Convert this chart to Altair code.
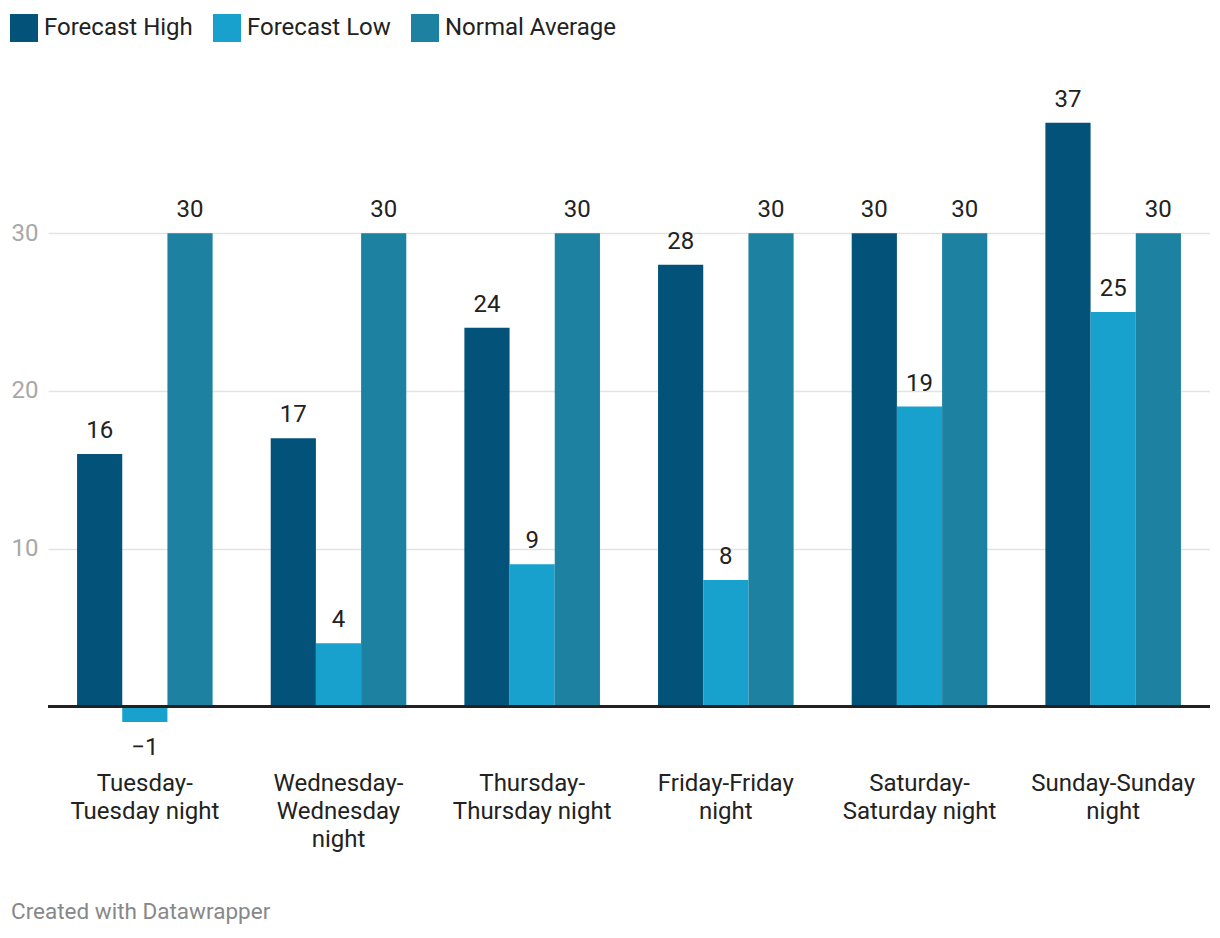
import altair as alt
import pandas as pd

categories = [
    "Tuesday-\nTuesday night",
    "Wednesday-\nWednesday\nnight",
    "Thursday-\nThursday night",
    "Friday-Friday\nnight",
    "Saturday-\nSaturday night",
    "Sunday-Sunday\nnight",
]
series = ["Forecast High", "Forecast Low", "Normal Average"]
forecast_high = [16, 17, 24, 28, 30, 37]
forecast_low = [-1, 4, 9, 8, 19, 25]
normal_average = [30, 30, 30, 30, 30, 30]
colors = ["#03527a", "#18a1cd", "#1d81a2"]
y_ticks = [10, 20, 30]
footer = "Created with Datawrapper"

rows = []
for i, c in enumerate(categories):
    for s, vals in zip(series, [forecast_high, forecast_low, normal_average]):
        rows.append({"category": c, "series": s, "value": vals[i]})
df = pd.DataFrame(rows)

FONT = "Roboto"
FS = 24

x_enc = alt.X(
    "category:N",
    sort=categories,
    scale=alt.Scale(paddingInner=0.3, paddingOuter=0.15),
    axis=alt.Axis(
        title=None, domain=False, ticks=False, labelAngle=0, orient="bottom",
        labelExpr="split(datum.label, '\\n')",
        labelFontSize=FS, labelFont=FONT, labelColor="#222222",
        labelLineHeight=28, labelPadding=49, labelBaseline="top",
    ),
)
xoff = alt.XOffset("series:N", sort=series, scale=alt.Scale(paddingInner=0, paddingOuter=0))
y_enc = alt.Y(
    "value:Q",
    scale=alt.Scale(domain=[-1, 38], nice=False, zero=False),
    axis=alt.Axis(
        title=None, values=y_ticks, domain=False, ticks=False, orient="left",
        grid=True, gridColor="#e3e3e3", gridWidth=1.5,
        labelFontSize=FS, labelFont=FONT, labelColor="#a8a8a8",
        labelPadding=10, labelBaseline="middle",
    ),
)
color_enc = alt.Color(
    "series:N",
    sort=series,
    scale=alt.Scale(domain=series, range=colors),
    legend=alt.Legend(title=None),
)

base = alt.Chart(df).encode(x=x_enc, xOffset=xoff, y=y_enc)

bars = base.mark_bar().encode(y2=alt.datum(0), color=color_enc)

pos_labels = base.transform_filter("datum.value >= 0").mark_text(
    baseline="alphabetic", dy=-16, fontSize=FS, font=FONT, color="#222222"
).encode(text="value:Q")

neg_labels = base.transform_filter("datum.value < 0").mark_text(
    baseline="alphabetic", dy=33, fontSize=FS, font=FONT, color="#222222"
).encode(text="value:Q")

zero_rule = alt.Chart(df).mark_rule(color="#222222", strokeWidth=2).encode(
    y=alt.datum(0)
)

footer_text = alt.Chart(pd.DataFrame({"t": [footer]})).mark_text(
    align="left", baseline="middle", fontSize=22.5, font=FONT, color="#888888"
).encode(x=alt.value(-37), y=alt.value(805), text="t:N")

chart = (
    alt.layer(bars, pos_labels, neg_labels, zero_rule, footer_text)
    .properties(
        width=1162, height=615,
        autosize=alt.AutoSizeParams(type="none"),
        padding={"left": 40, "top": 99, "right": 0, "bottom": 208},
    )
    .configure(font=FONT)
    .configure_view(stroke=None)
    .configure_legend(
        orient="none", direction="horizontal", legendX=-38, legendY=-93,
        symbolType="square", symbolSize=784, symbolStrokeWidth=0, symbolOpacity=1,
        labelFontSize=FS, labelFont=FONT, labelColor="#222222", labelLimit=400,
        columnPadding=20, labelOffset=6, padding=0,
    )
)

chart.save("out.html", embed_options={"renderer": "svg", "actions": False})
